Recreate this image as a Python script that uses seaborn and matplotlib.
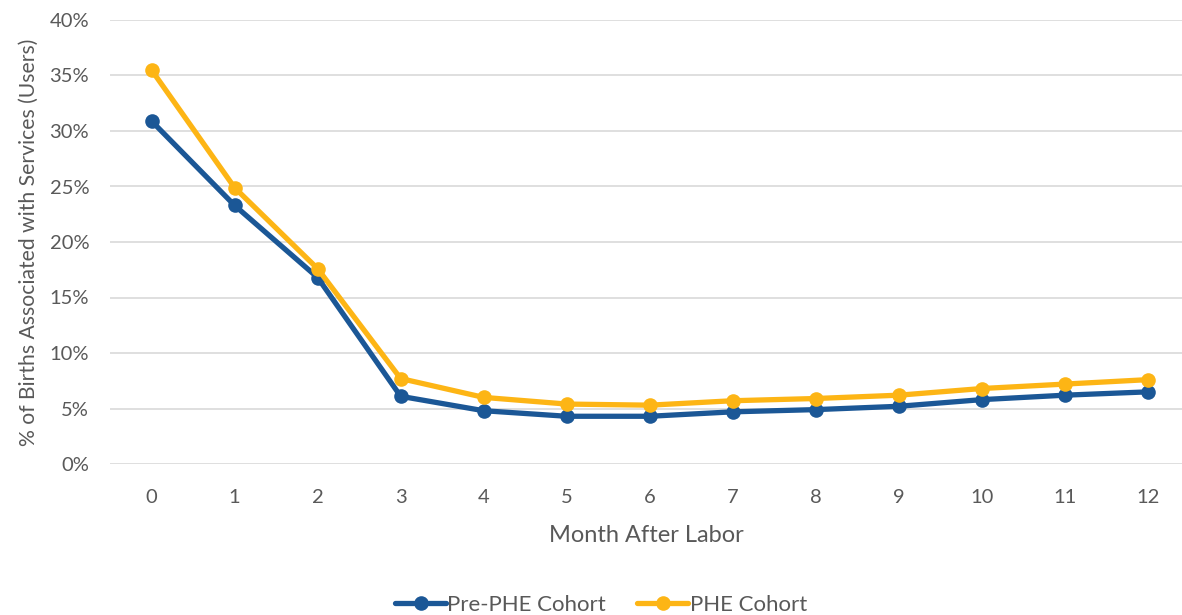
import numpy as np
import pandas as pd
import matplotlib
matplotlib.use("Agg")
import matplotlib.pyplot as plt
import seaborn as sns
from matplotlib.ticker import PercentFormatter

months = list(range(13))
pre_phe = [30.9, 23.3, 16.8, 6.1, 4.8, 4.3, 4.3, 4.7, 4.9, 5.2, 5.8, 6.2, 6.5]
phe = [35.5, 24.9, 17.6, 7.7, 6.0, 5.4, 5.3, 5.7, 5.9, 6.2, 6.8, 7.2, 7.6]
series_names = ["Pre-PHE Cohort", "PHE Cohort"]
colors = ["#1B5796", "#FDB515"]

df = pd.DataFrame({
    "month": months * 2,
    "value": pre_phe + phe,
    "cohort": [series_names[0]] * len(months) + [series_names[1]] * len(months),
})

sns.set_style("white")
plt.rcParams["font.family"] = ["Lato", "DejaVu Sans"]

fig = plt.figure(figsize=(11.82, 6.15), dpi=100)
ax = fig.add_axes([110 / 1182, 1 - 464 / 615, (1182 - 110) / 1182, 444 / 615])

sns.lineplot(data=df, x="month", y="value", hue="cohort", hue_order=series_names,
             palette=colors, marker="o", markersize=10.5, markeredgewidth=0,
             linewidth=3.8, ax=ax, legend=True)

ax.set_xlim(-0.5, 12 + (1182 - 1148) / 83.08)
ax.set_ylim(0, 40)
ax.set_yticks(np.arange(0, 41, 5))
ax.yaxis.set_major_formatter(PercentFormatter(decimals=0))
ax.set_xticks(months)
ax.set_xticklabels([str(m) for m in months])
ax.grid(axis="y", color="#D9D9D9", linewidth=1.2)
ax.grid(axis="x", visible=False)
for s in ax.spines.values():
    s.set_visible(False)
ax.tick_params(axis="both", length=0, labelsize=14.5, colors="#595959")
ax.tick_params(axis="x", pad=18)
ax.tick_params(axis="y", pad=15)
ax.set_xlabel("Month After Labor", fontsize=17, color="#595959", labelpad=14)
ax.set_ylabel("% of Births Associated with Services (Users)", fontsize=15.2,
              color="#595959", labelpad=8)

handles, labels = ax.get_legend_handles_labels()
leg = ax.legend(handles, labels, loc="center", bbox_to_anchor=(0.458, -0.318),
                ncol=2, frameon=False, fontsize=16, handlelength=2.3,
                columnspacing=1.4, handletextpad=0.05)
for t in leg.get_texts():
    t.set_color("#595959")

fig.savefig("out.png", dpi=100)
